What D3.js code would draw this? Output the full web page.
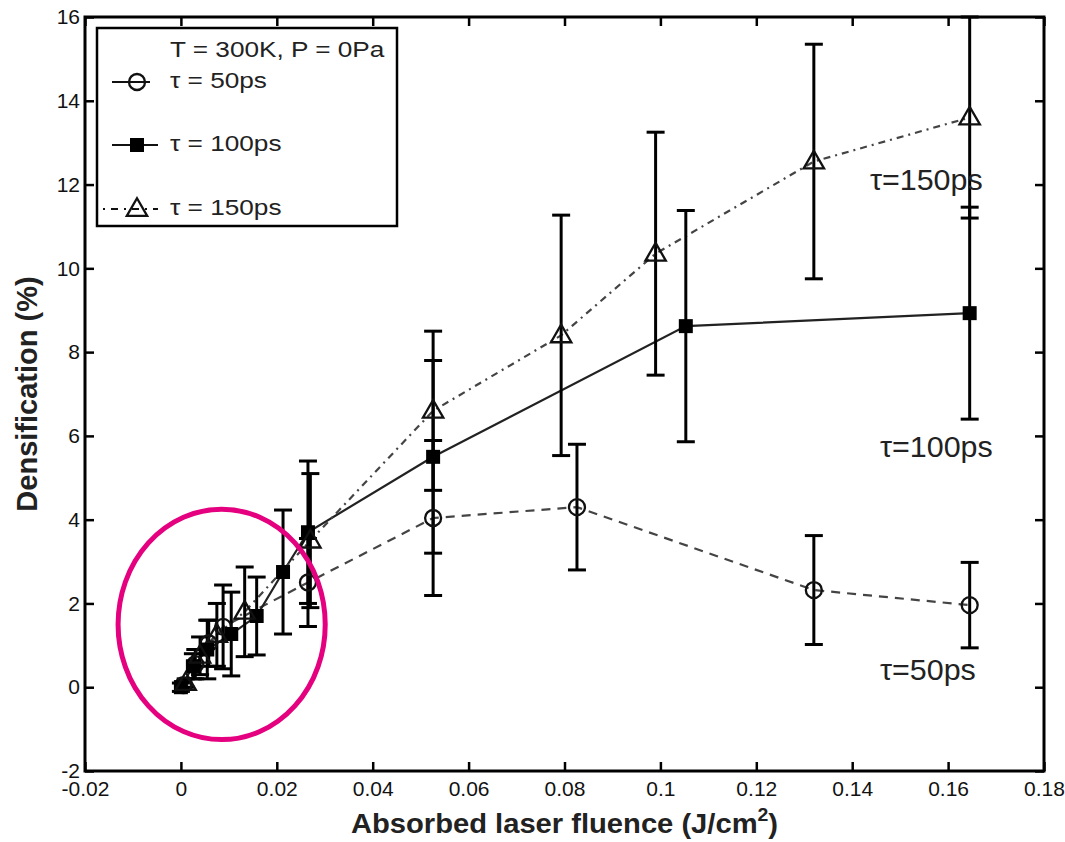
<!DOCTYPE html>
<html>
<head>
<meta charset="utf-8">
<script src="https://cdn.jsdelivr.net/npm/d3@7"></script>
<style>
  body { margin: 0; background: #fff; }
  svg { display: block; font-family: "Liberation Sans", Arial, sans-serif; }
</style>
</head>
<body>
<svg id="chart" width="1065" height="842"></svg>
<script>
// axis ticks
const xTicks = [-0.02, 0, 0.02, 0.04, 0.06, 0.08, 0.1, 0.12, 0.14, 0.16, 0.18];
const xTickLabels = ['-0.02', '0', '0.02', '0.04', '0.06', '0.08', '0.1', '0.12', '0.14', '0.16', '0.18'];
const yTicks = [-2, 0, 2, 4, 6, 8, 10, 12, 14, 16];
const yTickLabels = ['-2', '0', '2', '4', '6', '8', '10', '12', '14', '16'];

// tau = 50ps (open circles, dashed)
const fluence50 = [0.0005, 0.003, 0.0058, 0.0088, 0.0265, 0.0526, 0.0826, 0.132, 0.1645];
const dens50 = [0.05, 0.55, 1.05, 1.44, 2.5, 4.04, 4.3, 2.32, 1.96];
const err50 = [0.08, 0.35, 0.55, 1.0, 1.05, 1.85, 1.5, 1.3, 1.02];

// tau = 100ps (filled squares, solid)
const fluence100 = [0, 0.0025, 0.0055, 0.0105, 0.0158, 0.0213, 0.0265, 0.0526, 0.1053, 0.1645];
const dens100 = [0, 0.5, 0.9, 1.27, 1.7, 2.75, 3.7, 5.5, 8.62, 8.93];
const err100 = [0.1, 0.3, 0.7, 1.0, 0.93, 1.48, 1.7, 2.3, 2.76, 2.53];

// tau = 150ps (open triangles, dash-dot)
const fluence150 = [0.001, 0.004, 0.0075, 0.0133, 0.027, 0.0526, 0.0793, 0.099, 0.132, 0.1645];
const dens150 = [0.1, 0.75, 1.25, 1.8, 3.5, 6.6, 8.4, 10.35, 12.55, 13.6];
const err150 = [0.1, 0.45, 0.75, 1.07, 1.6, 1.9, 2.87, 2.9, 2.8, 2.4];

const legendTitle = 'T = 300K, P = 0Pa';
const seriesNames = ['τ = 50ps', 'τ = 100ps', 'τ = 150ps'];
const curveLabels = ['τ=50ps', 'τ=100ps', 'τ=150ps'];
const curveLabelX = [0.1458, 0.1458, 0.1437];
const curveLabelY = [0.17, 5.49, 11.87];

// highlighted region (magenta ellipse), in data units
const highlight = { cx: 0.0085, cy: 1.5, rx: 0.0216, ry: 2.75 };

const series = [
  { name: seriesNames[0], xs: fluence50, ys: dens50, es: err50, symbol: 'circle', dash: '9,7' },
  { name: seriesNames[1], xs: fluence100, ys: dens100, es: err100, symbol: 'square', dash: null },
  { name: seriesNames[2], xs: fluence150, ys: dens150, es: err150, symbol: 'triangle', dash: '7,5,2,5' }
];

const svg = d3.select('#chart');
const pLeft = 85, pRight = 1044, pTop = 17, pBottom = 771;

const x = d3.scaleLinear().domain([-0.02, 0.18]).range([pLeft, pRight]);
const y = d3.scaleLinear().domain([-2, 16]).range([pBottom, pTop]);

// axes, ticks pointing inward
const styleAxis = g => {
  g.select('.domain').remove();
  g.selectAll('.tick line').attr('stroke', '#000').attr('stroke-width', 2.5);
  g.selectAll('.tick text').attr('fill', '#111').style('font-size', '21px');
};

svg.append('g')
  .attr('transform', `translate(0,${pBottom})`)
  .call(d3.axisBottom(x).tickValues(xTicks).tickFormat((d, i) => xTickLabels[i])
    .tickSizeInner(-9).tickSizeOuter(0).tickPadding(10))
  .call(styleAxis);

svg.append('g')
  .attr('transform', `translate(0,${pTop})`)
  .call(d3.axisTop(x).tickValues(xTicks).tickFormat('').tickSizeInner(-9).tickSizeOuter(0))
  .call(styleAxis);

svg.append('g')
  .attr('transform', `translate(${pLeft},0)`)
  .call(d3.axisLeft(y).tickValues(yTicks).tickFormat((d, i) => yTickLabels[i])
    .tickSizeInner(-9).tickSizeOuter(0).tickPadding(5))
  .call(styleAxis);

svg.append('g')
  .attr('transform', `translate(${pRight},0)`)
  .call(d3.axisRight(y).tickValues(yTicks).tickFormat('').tickSizeInner(-9).tickSizeOuter(0))
  .call(styleAxis);

svg.append('rect')
  .attr('x', pLeft).attr('y', pTop)
  .attr('width', pRight - pLeft).attr('height', pBottom - pTop)
  .attr('fill', 'none').attr('stroke', '#000').attr('stroke-width', 3);

// axis titles
svg.append('text')
  .attr('transform', `translate(37,${(pTop + pBottom) / 2}) rotate(-90)`)
  .attr('text-anchor', 'middle')
  .style('font-size', '29px').style('font-weight', 'bold').attr('fill', '#222')
  .text('Densification (%)');

const xt = svg.append('text')
  .attr('transform', `translate(${(pLeft + pRight) / 2},833) scale(1.08,1)`)
  .attr('text-anchor', 'middle')
  .style('font-size', '27px').style('font-weight', 'bold').attr('fill', '#222');
xt.append('tspan').text('Absorbed laser fluence (J/cm');
xt.append('tspan').attr('dy', -12).style('font-size', '18px').text('2');
xt.append('tspan').attr('dy', 12).text(')');

// symbol helpers
const triangle = d3.symbol().type(d3.symbolTriangle).size(180);
const square = d3.symbol().type(d3.symbolSquare).size(196);

function drawMarker(g, type, cx, cy) {
  if (type === 'circle') {
    g.append('circle').attr('cx', cx).attr('cy', cy).attr('r', 8)
      .attr('fill', 'none').attr('stroke', '#111').attr('stroke-width', 2.3);
  } else if (type === 'square') {
    g.append('path').attr('d', square()).attr('transform', `translate(${cx},${cy})`)
      .attr('fill', '#000');
  } else {
    g.append('path').attr('d', triangle()).attr('transform', `translate(${cx},${cy + 1})`)
      .attr('fill', 'none').attr('stroke', '#111').attr('stroke-width', 2.3);
  }
}

const plot = svg.append('g');

const line = d3.line().x(d => x(d[0])).y(d => y(d[1]));

// connecting lines
series.forEach(s => {
  plot.append('path')
    .datum(s.xs.map((v, i) => [v, s.ys[i]]))
    .attr('d', line)
    .attr('fill', 'none')
    .attr('stroke', s.dash ? '#444' : '#222')
    .attr('stroke-width', 2.2)
    .attr('stroke-dasharray', s.dash);
});

// error bars
series.forEach(s => {
  s.xs.forEach((v, i) => {
    const px = x(v), y0 = y(s.ys[i] - s.es[i]), y1 = y(s.ys[i] + s.es[i]);
    const g = plot.append('g').attr('stroke', '#000').attr('stroke-width', 3);
    g.append('line').attr('x1', px).attr('x2', px).attr('y1', y0).attr('y2', y1);
    g.append('line').attr('x1', px - 9).attr('x2', px + 9).attr('y1', y0).attr('y2', y0);
    g.append('line').attr('x1', px - 9).attr('x2', px + 9).attr('y1', y1).attr('y2', y1);
  });
});

// markers
series.forEach(s => {
  s.xs.forEach((v, i) => drawMarker(plot, s.symbol, x(v), y(s.ys[i])));
});

// curve labels
curveLabels.forEach((t, i) => {
  svg.append('text')
    .attr('transform', `translate(${x(curveLabelX[i])},${y(curveLabelY[i])}) scale(1.05,1)`)
    .style('font-size', '29px').attr('fill', '#222')
    .text(t);
});

// legend
const lg = svg.append('g');
lg.append('rect').attr('x', 97).attr('y', 28).attr('width', 300).attr('height', 198)
  .attr('fill', '#fff').attr('stroke', '#000').attr('stroke-width', 2.5);
lg.append('text')
  .attr('transform', 'translate(170,57) scale(1.19,1)')
  .style('font-size', '22px').attr('fill', '#222').text(legendTitle);

const legendRowY = [82, 145, 209];
const legendLineX = [[112, 150], [112, 158], [103, 158]];
series.forEach((s, i) => {
  const ly = legendRowY[i];
  lg.append('line')
    .attr('x1', legendLineX[i][0]).attr('x2', legendLineX[i][1])
    .attr('y1', ly).attr('y2', ly)
    .attr('stroke', '#111').attr('stroke-width', 2.2)
    .attr('stroke-dasharray', s.dash ? (i === 2 ? '2,6,7,6' : null) : null);
  drawMarker(lg, s.symbol, 137, ly);
  lg.append('text')
    .attr('transform', `translate(170,${ly + 6}) scale(1.19,1)`)
    .style('font-size', '22px').attr('fill', '#222').text(s.name);
});

// highlight ellipse
svg.append('ellipse')
  .attr('cx', x(highlight.cx)).attr('cy', y(highlight.cy))
  .attr('rx', x(highlight.cx + highlight.rx) - x(highlight.cx))
  .attr('ry', y(highlight.cy) - y(highlight.cy + highlight.ry))
  .attr('fill', 'none').attr('stroke', '#e4007f').attr('stroke-width', 5);
</script>
</body>
</html>
